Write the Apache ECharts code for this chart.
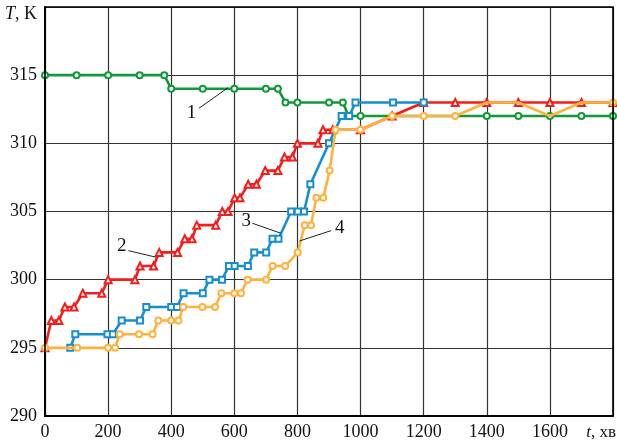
<!DOCTYPE html>
<html>
<head>
<meta charset="utf-8">
<script src="https://cdn.jsdelivr.net/npm/echarts@6/dist/echarts.min.js"></script>
<style>
  html, body { margin: 0; padding: 0; background: #fff; }
  #chart { width: 617px; height: 445px; }
</style>
</head>
<body>
<div id="chart"></div>
<script>
// Temperature T (K) against time t (min) for four curves.
const xTicks = [0, 200, 400, 600, 800, 1000, 1200, 1400, 1600, 1800];
const yTicks = [290, 295, 300, 305, 310, 315, 320];

// Curve 1 (green, circles)
const curve1 = [
  [0, 315], [100, 315], [200, 315], [300, 315], [378, 315], [400, 314],
  [500, 314], [600, 314], [700, 314], [738, 314], [762, 313], [800, 313],
  [900, 313], [944, 313], [962, 312], [1000, 312], [1400, 312], [1500, 312],
  [1600, 312], [1700, 312], [1800, 312]
];
// Curve 2 (red, triangles)
const curve2 = [
  [0, 295], [20, 297], [44, 297], [63, 298], [92, 298], [120, 299], [180, 299],
  [200, 300], [285, 300], [301, 301], [344, 301], [362, 302], [420, 302],
  [443, 303], [466, 303], [481, 304], [541, 304], [562, 305], [580, 305],
  [601, 306], [618, 306], [644, 307], [670, 307], [698, 308], [738, 308],
  [759, 309], [784, 309], [800, 310], [865, 310], [881, 311], [912, 311],
  [1000, 311], [1100, 312], [1200, 313], [1300, 313], [1400, 313],
  [1500, 313], [1600, 313], [1700, 313], [1800, 313]
];
// Curve 3 (blue, squares)
const curve3 = [
  [80, 295], [96, 296], [198, 296], [215, 296], [243, 297], [301, 297],
  [321, 298], [400, 298], [418, 298], [439, 299], [500, 299], [521, 300],
  [561, 300], [583, 301], [601, 301], [643, 301], [663, 302], [701, 302],
  [721, 303], [740, 303], [780, 305], [801, 305], [821, 305], [841, 307],
  [900, 310], [940, 312], [964, 312], [984, 313], [1103, 313], [1200, 313]
];
// Curve 4 (orange, circles)
const curve4 = [
  [0, 295], [102, 295], [200, 295], [222, 295], [237, 296], [298, 296],
  [341, 296], [359, 297], [400, 297], [423, 297], [438, 298], [499, 298],
  [539, 298], [559, 299], [600, 299], [621, 299], [642, 300], [701, 300],
  [721, 301], [761, 301], [801, 302], [823, 304], [843, 304], [860, 306],
  [882, 306], [902, 308], [921, 311], [1000, 311], [1100, 312], [1200, 312],
  [1300, 312], [1400, 313], [1500, 313], [1600, 312], [1700, 313], [1800, 313]
];
// Points of curve 4 that sit under another curve's marker
const curve4Hidden = [1400, 1500, 1600, 1700];

// Curve numbers with leader lines, in data units: label position, line start, line end
const callouts = [
  { text: '1', at: [464, 312.25], from: [488, 312.57], to: [580, 314.08] },
  { text: '2', at: [243, 302.48], from: [264, 302.13], to: [351, 301.65] },
  { text: '3', at: [638, 304.31], from: [657, 304.14], to: [747, 303.41] },
  { text: '4', at: [934, 303.78], from: [907, 303.6], to: [807, 302.84] }
];

const SERIF = "'Times New Roman', 'Liberation Serif', serif";
const chart = echarts.init(document.getElementById('chart'), null, { renderer: 'canvas' });

function lineSeries(name, data, color, symbol, size, z) {
  return {
    name, type: 'line', data, z,
    symbol, symbolSize: size,
    showAllSymbol: true,
    lineStyle: { color, width: 2.6 },
    itemStyle: { color, borderWidth: 1.8 },
    emphasis: { disabled: true },
    animation: false
  };
}

const c4data = curve4.map(p => curve4Hidden.includes(p[0]) ? { value: p, symbol: 'none' } : p);

chart.setOption({
  animation: false,
  grid: { left: 45, right: 4, top: 7, bottom: 29, containLabel: false },
  xAxis: {
    type: 'value', min: 0, max: 1800, interval: 200,
    axisLine: { show: true, onZero: false, lineStyle: { color: '#000', width: 2 } },
    axisTick: { show: false },
    axisLabel: {
      margin: 7, color: '#111', fontFamily: SERIF, fontSize: 18,
      formatter: v => (v === 1800 ? '' : String(v))
    },
    splitLine: { show: true, lineStyle: { color: '#333', width: 1.2 } }
  },
  yAxis: {
    type: 'value', min: 290, max: 320, interval: 5,
    axisLine: { show: true, lineStyle: { color: '#000', width: 2 } },
    axisTick: { show: false },
    axisLabel: {
      margin: 8, color: '#111', fontFamily: SERIF, fontSize: 18,
      formatter: v => (v === 320 ? '' : String(v))
    },
    splitLine: { show: true, lineStyle: { color: '#333', width: 1.2 } }
  },
  series: [
    lineSeries('1', curve1, '#13993a', 'emptyCircle', 6, 2),
    lineSeries('2', curve2, '#f51c1c', 'emptyTriangle', 7, 3),
    lineSeries('3', curve3, '#168fce', 'emptyRect', 6, 4),
    lineSeries('4', c4data, '#ffb23c', 'emptyCircle', 6, 5)
  ]
});

// Frame, axis titles and curve callouts
function drawOverlay() {
  const rect = chart.getModel().getComponent('grid').coordinateSystem.getRect();
  const els = [
    {
      type: 'rect', silent: true, z: 10,
      shape: { x: rect.x, y: rect.y, width: rect.width, height: rect.height },
      style: { fill: 'none', stroke: '#000', lineWidth: 1.6 }
    },
    {
      type: 'text', silent: true, z: 10,
      style: {
        x: rect.x - 8, y: 14, align: 'right', verticalAlign: 'middle',
        text: '{i|T}, K',
        rich: { i: { fontStyle: 'italic', fontFamily: SERIF, fontSize: 18, fill: '#111' } },
        fontFamily: SERIF, fontSize: 18, fill: '#111'
      }
    },
    {
      type: 'text', silent: true, z: 10,
      style: {
        x: 616, y: 433, align: 'right', verticalAlign: 'middle',
        text: '{i|t}, хв',
        rich: { i: { fontStyle: 'italic', fontFamily: SERIF, fontSize: 17, fill: '#111' } },
        fontFamily: SERIF, fontSize: 17, fill: '#111'
      }
    }
  ];
  callouts.forEach(c => {
    const p = chart.convertToPixel({ gridIndex: 0 }, c.at);
    const a = chart.convertToPixel({ gridIndex: 0 }, c.from);
    const b = chart.convertToPixel({ gridIndex: 0 }, c.to);
    els.push({
      type: 'line', silent: true, z: 11,
      shape: { x1: a[0], y1: a[1], x2: b[0], y2: b[1] },
      style: { stroke: '#222', lineWidth: 1 }
    });
    els.push({
      type: 'text', silent: true, z: 11,
      style: {
        x: p[0], y: p[1], align: 'center', verticalAlign: 'middle',
        text: c.text, fontFamily: SERIF, fontSize: 19, fill: '#111'
      }
    });
  });
  chart.setOption({ graphic: { elements: els } });
}
drawOverlay();
</script>
</body>
</html>
